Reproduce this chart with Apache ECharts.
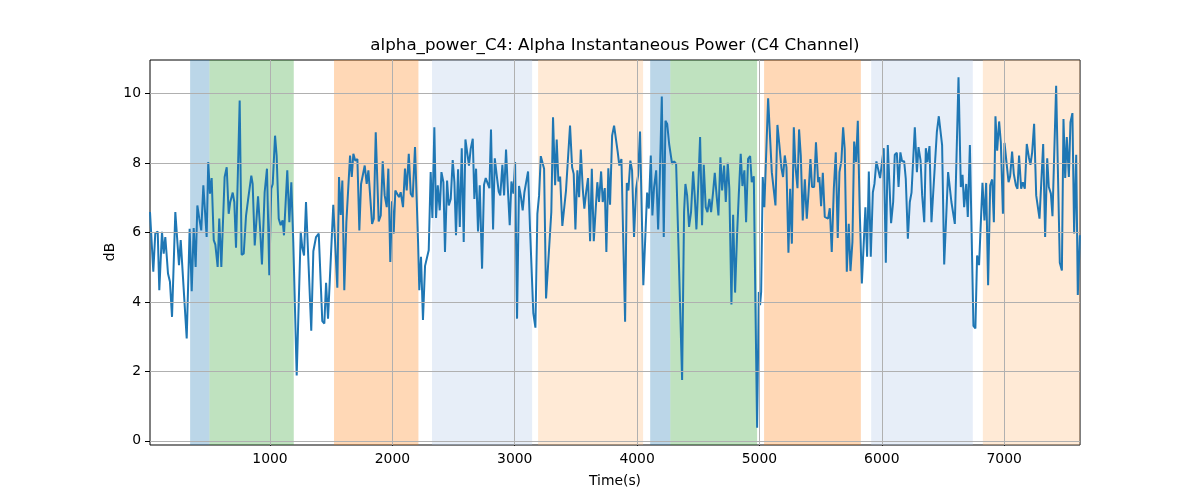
<!DOCTYPE html>
<html>
<head>
<meta charset="utf-8">
<script src="https://cdn.jsdelivr.net/npm/echarts@6/dist/echarts.min.js"></script>
<style>html,body{margin:0;padding:0;background:#fff}#c{width:1200px;height:500px}</style>
</head>
<body>
<div id="c"></div>
<script>
const titleText = 'alpha_power_C4: Alpha Instantaneous Power (C4 Channel)';
const xLabel = 'Time(s)';
const yLabel = 'dB';
const xTicks = [1000, 2000, 3000, 4000, 5000, 6000, 7000];
const yTicks = [0, 2, 4, 6, 8, 10];

const times = [
19,46,62,82,95,117,131,144,155,166,182,199,226,256,270,286,319,343,360,376,392,406,422,438,455,468,482,495,509,523,540,553,572,585,602,629,646,662,675,695,708,722,752,768,785,804,820,847,858,875,902,918,934,956,975,994,1010,1022,1041,1054,1071,1087,
1103,1114,1141,1158,1174,1190,1218,1251,1264,1278,1294,1337,1354,1365,1376,1398,1427,1444,1458,1474,1517,1550,1564,1578,1591,1607,1624,1654,1668,1681,1697,1714,1730,1744,1774,1790,1804,1834,1848,1864,1888,1905,1921,1937,1954,1967,1983,1997,2011,2024,2040,2054,2068,2087,2103,2117,2134,2150,2166,2185,
2210,2220,2234,2250,2267,2281,2297,2313,2327,2343,2357,2371,2387,2401,2417,2430,2447,2461,2477,2493,2507,2520,2537,2551,2567,2583,2597,2610,2626,2640,2657,2670,2684,2700,2714,2733,2749,2763,2776,2793,2806,2823,2837,2853,2869,2882,2899,2913,2929,2943,2959,2973,2989,3003,3019,3035,3049,3065,3079,3095,3109,3125,3152,3169,3185,3199,3213,3226,3240,3256,
3299,3313,3330,3343,3357,3371,3389,3419,3452,3469,3482,3496,3512,3526,3540,3556,3569,3585,3599,3616,3630,3646,3659,3675,3689,3706,3719,3736,3749,3765,3779,3796,3812,3828,3842,3855,3872,3885,3902,3916,3929,3945,3959,3975,3992,4008,4024,4051,4082,4096,4112,4125,4139,4156,4172,4185,4202,4218,4232,4246,4262,4286,4303,4319,4335,4368,
4384,4395,4409,4425,4441,4458,4471,4485,4501,4515,4531,4545,4561,4575,4591,4605,4621,4635,4651,4665,4681,4695,4711,4725,4741,4754,4771,4785,4801,4817,4831,4847,4861,4877,4891,4907,4924,4937,4954,4967,4981,4995,5005,5014,5027,5040,5071,5101,5131,5147,5163,5180,5193,5207,5221,5237,5251,5265,5281,5294,5311,5324,5338,5354,5371,5387,5400,5417,5430,5447,5462,
5480,5490,5504,5518,5534,5547,5561,5575,5591,5608,5624,5640,5654,5670,5684,5697,5714,5730,5744,5760,5774,5790,5804,5820,5837,5853,5866,5880,5894,5910,5927,5940,5956,5970,5986,6000,6016,6033,6049,6063,6076,6093,6106,6123,6137,6152,6166,6183,6196,6213,6229,6243,6256,6270,6287,6300,6317,6330,6347,6360,6373,6390,6406,6422,6450,6466,6493,6510,6542,6569,
6597,6627,6646,6660,6673,6690,6703,6720,6749,6765,6779,6795,6809,6823,6839,6853,6869,6886,6902,6916,6929,6943,6959,6973,6990,7003,7019,7036,7049,7065,7079,7096,7109,7122,7139,7153,7169,7185,7202,7215,7229,7245,7262,7275,7289,7319,7335,7352,7365,7382,7395,7425,7455,7472,7485,7499,7512,7529,7542,7558,7572,7589,7602,7619
];

const values = [
6.59,4.87,5.97,6.03,4.34,6.02,5.39,5.87,5.36,4.82,4.58,3.57,6.59,5.06,5.78,5.75,2.95,6.11,4.31,6.13,5.01,6.78,6.40,6.06,7.36,7.34,5.87,8.03,7.12,7.57,5.78,5.65,5.01,6.40,5.01,7.60,7.88,6.54,6.88,7.15,6.88,5.56,9.80,5.36,5.39,6.49,6.93,7.64,7.40,5.63,7.04,6.16,5.08,7.16,7.84,4.77,7.26,7.40,8.79,8.22,6.40,6.21,
6.35,5.92,7.79,6.30,7.45,5.73,1.88,6.02,5.56,5.34,6.88,3.17,5.46,5.44,5.87,5.97,3.45,3.38,4.55,3.52,6.80,4.41,7.60,6.51,7.50,4.34,6.30,8.22,7.60,8.27,8.07,8.12,6.06,7.40,7.93,7.40,7.79,6.25,6.40,8.89,6.32,6.49,8.05,7.07,6.73,7.84,5.15,6.90,5.97,7.21,7.26,7.02,7.16,6.73,7.84,7.21,8.27,7.12,7.02,8.46,
5.73,4.34,5.30,3.48,5.04,5.06,5.49,7.74,6.42,9.03,6.42,7.36,6.64,7.74,7.45,5.44,7.50,6.78,6.97,8.09,7.45,5.92,7.82,6.16,8.43,5.73,8.68,8.65,7.93,8.41,8.70,6.97,7.84,6.03,7.36,4.96,7.38,7.57,7.60,7.28,8.97,6.09,8.14,7.64,7.18,7.07,7.95,7.07,8.39,7.31,6.21,7.47,7.12,8.03,3.52,7.34,7.07,6.64,7.16,7.18,7.76,6.11,3.67,3.26,6.54,7.07,8.20,8.17,7.84,4.10,
6.59,9.32,7.36,8.68,7.47,7.61,6.19,7.21,9.08,7.88,7.69,6.09,7.79,7.02,8.39,7.26,6.69,7.21,7.57,5.75,7.84,5.75,5.78,7.45,6.88,7.76,6.88,7.28,5.44,7.85,6.80,8.79,9.08,9.03,8.31,7.93,8.12,8.17,3.43,7.43,7.21,8.07,7.79,5.87,7.26,7.64,8.91,4.48,7.15,6.69,8.22,6.49,7.31,7.79,6.09,7.50,9.92,5.87,9.22,9.13,8.55,7.98,8.05,7.98,6.02,1.75,
6.59,7.40,7.07,6.16,6.59,7.76,7.07,6.09,7.45,8.75,6.21,7.95,6.73,6.59,6.97,6.59,7.16,7.72,7.02,6.49,8.17,7.21,7.93,6.88,8.01,7.26,3.93,6.51,4.27,5.92,7.07,8.27,7.34,7.79,6.30,8.12,8.20,7.45,7.62,4.00,0.38,4.29,3.91,4.29,7.60,6.73,9.87,7.74,6.78,9.10,8.52,7.85,7.60,8.22,7.88,5.42,7.26,5.68,9.03,7.93,7.28,8.97,8.22,6.35,7.53,6.40,7.07,8.12,7.31,7.31,8.60,
7.45,7.60,6.76,7.72,6.45,6.49,6.40,6.70,5.44,7.26,8.31,5.84,7.74,8.07,9.03,8.41,4.87,6.25,4.89,5.73,8.62,8.03,9.22,6.59,4.53,5.73,6.73,5.30,7.76,5.30,7.16,7.40,8.05,8.03,7.57,7.60,8.43,5.13,8.52,7.36,6.27,6.88,8.24,8.30,7.31,8.31,8.05,8.05,7.55,5.82,6.88,7.15,7.18,9.03,7.74,8.46,8.07,7.07,6.30,8.43,8.03,8.49,6.30,6.30,8.89,9.35,8.52,5.08,7.74,6.88,
6.25,10.47,7.31,7.66,6.73,7.40,6.45,8.52,3.31,3.24,5.34,5.06,5.06,7.43,6.35,7.43,4.48,7.36,7.53,6.30,9.35,8.36,9.20,8.60,6.54,8.58,8.58,7.45,7.62,8.33,7.69,7.36,7.26,8.22,7.26,7.45,7.26,8.55,8.17,7.95,8.31,9.13,7.07,7.02,6.40,8.55,5.87,8.14,7.31,7.12,6.47,10.23,5.13,4.91,9.27,7.57,8.75,7.60,9.18,9.44,5.97,8.24,4.20,5.92
];

// shaded segments: start, end, kind
const bandStarts = [347, 505, 1523, 2324, 3191, 4107, 4272, 5038, 5913, 6826];
const bandEnds   = [505, 1194, 2213, 3142, 4049, 4272, 4981, 5829, 6744, 7620];
const bandKinds  = ['A', 'B', 'C', 'D', 'E', 'A', 'B', 'C', 'D', 'E'];

const kindColors = {
  A: 'rgba(31,119,180,0.3)',
  B: 'rgba(44,160,44,0.3)',
  C: 'rgba(255,127,14,0.3)',
  D: 'rgba(174,199,232,0.3)',
  E: 'rgba(255,187,120,0.3)'
};

const X_MIN = 19, X_MAX = 7620, Y_MIN = -0.12, Y_MAX = 10.97;
const FONT = 'DejaVu Sans';

const lineData = times.map((t, i) => [t, values[i]]);
const areaData = bandStarts.map((s, i) => [
  { xAxis: s, itemStyle: { color: kindColors[bandKinds[i]], borderWidth: 0 } },
  { xAxis: bandEnds[i] }
]);
const gridLines = xTicks.map(v => ({ xAxis: v })).concat(yTicks.map(v => ({ yAxis: v })));

const chart = echarts.init(document.getElementById('c'), null, { renderer: 'canvas' });
chart.setOption({
  animation: false,
  backgroundColor: '#ffffff',
  grid: {
    left: 150, right: 120, top: 60, bottom: 55,
    containLabel: false,
    show: true, borderColor: '#000', borderWidth: 1, backgroundColor: 'transparent'
  },
  xAxis: {
    type: 'value', min: X_MIN, max: X_MAX,
    axisLine: { show: false },
    splitLine: { show: false },
    axisTick: { show: true, inside: false, length: 5, lineStyle: { color: '#000', width: 1 }, customValues: xTicks },
    axisLabel: { show: true, margin: 7, color: '#000', fontFamily: FONT, fontSize: 13.9, customValues: xTicks, formatter: v => String(v) }
  },
  yAxis: {
    type: 'value', min: Y_MIN, max: Y_MAX,
    axisLine: { show: false },
    splitLine: { show: false },
    axisTick: { show: true, inside: false, length: 5, lineStyle: { color: '#000', width: 1 }, customValues: yTicks },
    axisLabel: { show: true, margin: 9, color: '#000', fontFamily: FONT, fontSize: 13.9, customValues: yTicks, formatter: v => String(v) }
  },
  series: [
    {
      type: 'line', data: [], z: 1, silent: true,
      markArea: { silent: true, data: areaData }
    },
    {
      type: 'line', data: [], z: 2, silent: true,
      markLine: {
        silent: true, symbol: ['none', 'none'], animation: false,
        label: { show: false },
        lineStyle: { color: '#b0b0b0', width: 1, type: 'solid' },
        emphasis: { disabled: true },
        data: gridLines
      }
    },
    {
      type: 'line', data: lineData, z: 3,
      showSymbol: false, symbol: 'none', smooth: false, sampling: null,
      lineStyle: { color: '#1f77b4', width: 2 },
      itemStyle: { color: '#1f77b4' },
      emphasis: { disabled: true }
    }
  ],
  graphic: [
    { type: 'text', x: 615, y: 46, style: { text: titleText, fontFamily: FONT, fontSize: 16.7, fill: '#000', align: 'center', verticalAlign: 'middle' } },
    { type: 'text', x: 615, y: 481, style: { text: xLabel, fontFamily: FONT, fontSize: 13.9, fill: '#000', align: 'center', verticalAlign: 'middle' } },
    { type: 'text', x: 110, y: 252, rotation: Math.PI / 2, style: { text: yLabel, fontFamily: FONT, fontSize: 13.9, fill: '#000', align: 'center', verticalAlign: 'middle' } }
  ]
});
</script>
</body>
</html>
